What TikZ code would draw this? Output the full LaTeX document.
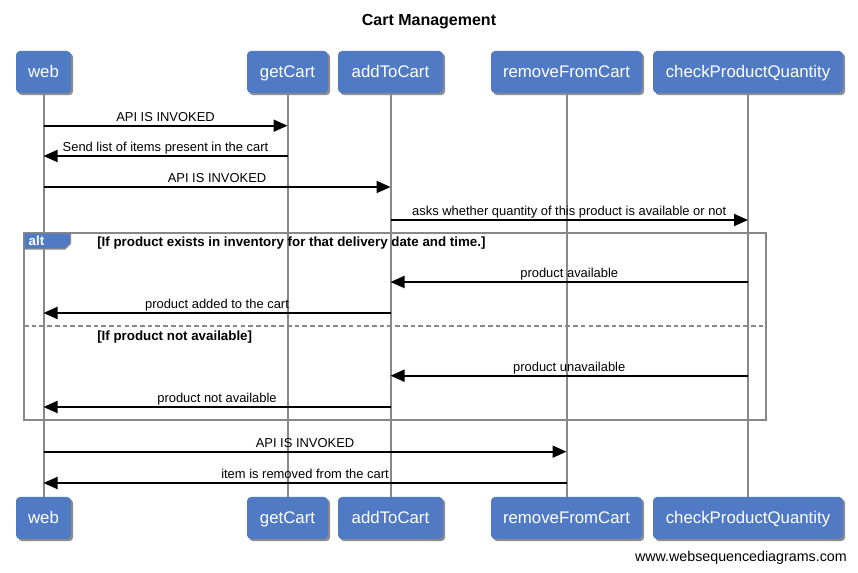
\documentclass[tikz,border=0pt]{standalone}
\usepackage{fontspec}
\setmainfont{Liberation Sans}
\usetikzlibrary{shadows,arrows.meta}
\definecolor{boxblue}{RGB}{80,123,196}
\definecolor{lifegray}{RGB}{136,136,136}
\begin{document}
\begin{tikzpicture}[x=0.75pt,y=-0.75pt,
  actor/.style={fill=boxblue, rounded corners=3pt, text=white,
    font=\fontsize{12.6}{15}\selectfont, minimum height=31.5pt, inner sep=0pt,
    text height=9pt, text depth=0pt,
    drop shadow={shadow xshift=1.6pt, shadow yshift=-1.6pt, opacity=0.45, fill=black}},
  life/.style={draw=lifegray, line width=1.5pt},
  msg/.style={line width=1.4pt, -{Triangle[length=10.5pt,width=9pt]}},
  lbl/.style={font=\fontsize{9.7}{11}\selectfont, anchor=base, yshift=3.2pt, inner sep=0pt},
  frame/.style={draw=lifegray, line width=1.5pt},
  guard/.style={font=\bfseries\fontsize{10}{12}\selectfont, anchor=base west, inner sep=0pt},
]
\useasboundingbox (0,0) rectangle (858,573);

% title and footer
\node[font=\bfseries\fontsize{12}{14}\selectfont, anchor=base, inner sep=0pt] (title) at (429,26) {Cart Management};
\node[anchor=base east, font=\fontsize{10.7}{12}\selectfont, inner sep=0pt] (footer) at (847,562) {www.websequencediagrams.com};

% participants (top)
\node[actor, minimum width=41.25pt]  (webT) at (43.5,72)  {web};
\node[actor, minimum width=60.75pt]  (getT) at (287.5,72) {getCart};
\node[actor, minimum width=78.75pt]  (addT) at (390.5,72) {addToCart};
\node[actor, minimum width=113.25pt] (remT) at (566.5,72) {removeFromCart};
\node[actor, minimum width=142.5pt]  (chkT) at (748,72)   {checkProductQuantity};
% participants (bottom)
\node[actor, minimum width=41.25pt]  (webB) at (43.5,518)  {web};
\node[actor, minimum width=60.75pt]  (getB) at (287.5,518) {getCart};
\node[actor, minimum width=78.75pt]  (addB) at (390.5,518) {addToCart};
\node[actor, minimum width=113.25pt] (remB) at (566.5,518) {removeFromCart};
\node[actor, minimum width=142.5pt]  (chkB) at (748,518)   {checkProductQuantity};

% lifelines
\draw[life] (webT.south) -- (webB.north);
\draw[life] (getT.south) -- (getB.north);
\draw[life] (addT.south) -- (addB.north);
\draw[life] (remT.south) -- (remB.north);
\draw[life] (chkT.south) -- (chkB.north);

% alt frame
\coordinate (altNW) at (24,233);
\coordinate (altSE) at (766,420);
\coordinate (sepW) at (24,326);
\coordinate (sepE) at (766,326);
\draw[frame] (altNW) rectangle (altSE);
\draw[draw=lifegray, line width=1.4pt, dash pattern=on 3.5pt off 2.3pt] (sepW) -- (sepE);
\draw[fill=boxblue, draw=lifegray, line width=1pt] (altNW) -- (70.5,233) -- (70.5,243.5) -- (65,249) -- (24,249) -- cycle;
\node[text=white, font=\bfseries\fontsize{10}{11}\selectfont, inner sep=0pt] (altlbl) at (36.5,241) {alt};
\node[guard] (g1) at (97,246.5) {[If product exists in inventory for that delivery date and time.]};
\node[guard] (g2) at (97,340.5) {[If product not available]};

% messages
\draw[msg] (webT.south |- 0,125.7) -- node[lbl]{API IS INVOKED} (getT.south |- 0,125.7);
\draw[msg] (getT.south |- 0,156) -- node[lbl]{Send list of items present in the cart} (webT.south |- 0,156);
\draw[msg] (webT.south |- 0,187) -- node[lbl]{API IS INVOKED} (addT.south |- 0,187);
\draw[msg] (addT.south |- 0,220) -- node[lbl]{asks whether quantity of this product is available or not} (chkT.south |- 0,220);
\draw[msg] (chkT.south |- 0,282) -- node[lbl]{product available} (addT.south |- 0,282);
\draw[msg] (addT.south |- 0,313) -- node[lbl]{product added to the cart} (webT.south |- 0,313);
\draw[msg] (chkT.south |- 0,375.7) -- node[lbl]{product unavailable} (addT.south |- 0,375.7);
\draw[msg] (addT.south |- 0,407) -- node[lbl]{product not available} (webT.south |- 0,407);
\draw[msg] (webT.south |- 0,451.7) -- node[lbl]{API IS INVOKED} (remT.south |- 0,451.7);
\draw[msg] (remT.south |- 0,483) -- node[lbl]{item is removed from the cart} (webT.south |- 0,483);
\end{tikzpicture}
\end{document}
